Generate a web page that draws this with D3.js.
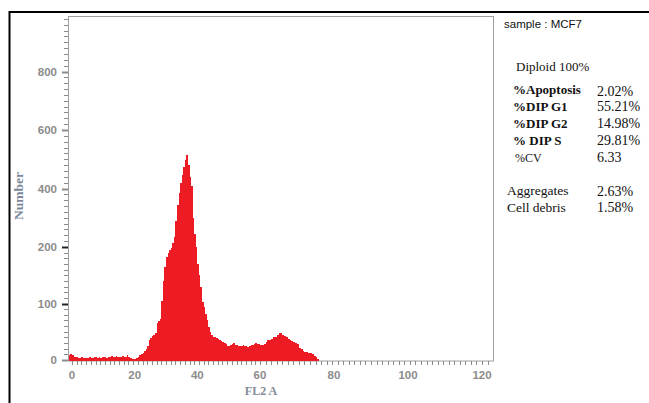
<!DOCTYPE html>
<html>
<head>
<meta charset="utf-8">
<script src="https://cdn.jsdelivr.net/npm/d3@7"></script>
<style>
  body { margin: 0; background: #fff; }
  svg { display: block; }
</style>
</head>
<body>
<svg id="chart" width="649" height="403"></svg>
<script>
// histogram: counts per half-channel bin, first bin starts at channel -1
const firstChannel = -1;
const binWidth = 0.5;
const counts = [
  9, 11,
  8, 6, 5, 5, 4, 4, 5, 4, 4, 3, 4, 5, 4, 4, 5, 6, 4, 5, 4, 5,
  6, 5, 4, 6, 5, 7, 5, 6, 7, 5, 6, 5, 7, 6, 5, 8, 6, 3, 1, 1,
  2, 3, 6, 9, 11, 13, 16, 20, 25, 36, 39, 42, 45, 48, 66, 69, 72, 105, 140, 165,
  182, 190, 194, 198, 212, 235, 290, 345, 385, 420, 446, 474, 497, 515, 482, 440, 410, 300, 245, 200,
  170, 150, 130, 102, 94, 82, 70, 58, 50, 44, 41, 40, 39, 37, 35, 34, 32, 30, 28, 25,
  24, 26, 29, 30, 27, 26, 24, 25, 24, 26, 24, 25, 23, 24, 26, 27, 29, 30, 29, 28,
  27, 26, 29, 32, 35, 36, 38, 40, 41, 44, 47, 48, 45, 42, 40, 38, 35, 33, 31, 30,
  28, 22, 19, 16, 15, 14, 13, 12, 11, 7, 5, 2
];

const xTickValues = [0, 20, 40, 60, 80, 100, 120];
const yTickValues = [0, 100, 200, 400, 600, 800];

const sampleLabel = "sample : MCF7";
const ploidyLabel = "Diploid 100%";
const statLabels = ["%Apoptosis", "%DIP G1", "%DIP G2", "% DIP S", "%CV"];
const statValues = ["2.02%", "55.21%", "14.98%", "29.81%", "6.33"];
const extraLabels = ["Aggregates", "Cell debris"];
const extraValues = ["2.63%", "1.58%"];

const svg = d3.select("#chart");
const plot = { left: 68, right: 493, top: 16, bottom: 360 };

// the instrument axes are not evenly spaced, so both scales are piecewise
const x = d3.scaleLinear().domain([0, 60, 120]).range([72, 260, 482]);
const y = d3.scaleLinear().domain([0, 200, 990]).range([plot.bottom, 247, plot.top]);

// outer black frame (top and left edges only)
svg.append("line").attr("x1", 9).attr("x2", 649).attr("y1", 12).attr("y2", 12)
  .attr("stroke", "#000").attr("stroke-width", 2);
svg.append("line").attr("x1", 9.5).attr("x2", 9.5).attr("y1", 11).attr("y2", 403)
  .attr("stroke", "#000").attr("stroke-width", 2);

// plot box
svg.append("rect")
  .attr("x", plot.left + 0.5).attr("y", plot.top + 0.5)
  .attr("width", plot.right - plot.left).attr("height", plot.bottom - plot.top + 0.5)
  .attr("fill", "none").attr("stroke", "#a0a0a0");

svg.append("clipPath").attr("id", "clip")
  .append("rect")
  .attr("x", plot.left + 1).attr("y", plot.top)
  .attr("width", plot.right - plot.left - 1).attr("height", plot.bottom - plot.top + 1);

const bins = counts.map((n, i) => ({ c: firstChannel + i * binWidth, n: n }));
bins.push({ c: firstChannel + counts.length * binWidth, n: 0 });

const area = d3.area()
  .curve(d3.curveStepAfter)
  .x(d => x(d.c))
  .y0(y(0) + 0.5)
  .y1(d => y(d.n));

svg.append("path")
  .datum(bins)
  .attr("clip-path", "url(#clip)")
  .attr("fill", "#ed1c24")
  .attr("shape-rendering", "crispEdges")
  .attr("d", area);

// y axis minor ticks: every 10 below 200, every 20 above
const yMinor = d3.range(0, 200, 10).concat(d3.range(200, 990, 20));
svg.append("g").selectAll("line")
  .data(yMinor)
  .join("line")
  .attr("x1", d => yTickValues.includes(d) ? 62 : 64)
  .attr("x2", plot.left)
  .attr("y1", d => Math.round(y(d)) + 0.5)
  .attr("y2", d => Math.round(y(d)) + 0.5)
  .attr("stroke", d => (d === 100 || d === 200) ? "#222" : "#8a8a8a")
  .attr("stroke-width", d => yTickValues.includes(d) ? 2 : 1);

svg.append("g").selectAll("text")
  .data(yTickValues)
  .join("text")
  .attr("x", 57)
  .attr("y", d => y(d))
  .attr("dy", "0.36em")
  .attr("text-anchor", "end")
  .attr("font-family", "Liberation Sans, Arial, sans-serif")
  .attr("font-weight", "bold")
  .attr("font-size", 11.5)
  .attr("fill", "#8c8c8c")
  .text(d => d);

// x axis ticks
const xMinor = d3.range(0, 123, 1.5);
svg.append("g").selectAll("line")
  .data(xMinor)
  .join("line")
  .attr("x1", d => Math.round(x(d)) + 0.5)
  .attr("x2", d => Math.round(x(d)) + 0.5)
  .attr("y1", plot.bottom + 1)
  .attr("y2", plot.bottom + 5)
  .attr("stroke", "#8a8a8a");

svg.append("g").selectAll("text")
  .data(xTickValues)
  .join("text")
  .attr("x", d => x(d))
  .attr("y", 379)
  .attr("text-anchor", "middle")
  .attr("font-family", "Liberation Sans, Arial, sans-serif")
  .attr("font-weight", "bold")
  .attr("font-size", 11.5)
  .attr("fill", "#8c8c8c")
  .text(d => d);

// axis titles
svg.append("text")
  .attr("transform", "translate(23,196) rotate(-90)")
  .attr("text-anchor", "middle")
  .attr("font-family", "Liberation Serif, serif")
  .attr("font-weight", "bold")
  .attr("font-size", 13.5)
  .attr("fill", "#7c889a")
  .text("Number");

svg.append("text")
  .attr("x", 261).attr("y", 395)
  .attr("text-anchor", "middle")
  .attr("font-family", "Liberation Serif, serif")
  .attr("font-weight", "bold")
  .attr("font-size", 12)
  .attr("fill", "#858c96")
  .text("FL2 A");

// right-hand report panel
const serif = "Liberation Serif, serif";

svg.append("text")
  .attr("x", 504).attr("y", 28)
  .attr("font-family", "Liberation Sans, Arial, sans-serif")
  .attr("font-size", 11.5)
  .attr("fill", "#111")
  .text(sampleLabel);

svg.append("text")
  .attr("x", 516).attr("y", 71)
  .attr("font-family", serif)
  .attr("font-size", 13)
  .attr("fill", "#111")
  .text(ploidyLabel);

const stats = svg.append("g");
statLabels.forEach((label, i) => {
  const isCV = i === statLabels.length - 1;
  const base = 94 + i * 17;
  stats.append("text")
    .attr("x", isCV ? 515 : 513).attr("y", base)
    .attr("font-family", serif)
    .attr("font-weight", isCV ? "normal" : "bold")
    .attr("font-size", isCV ? 12 : 13)
    .attr("fill", "#111")
    .text(label);
  stats.append("text")
    .attr("x", 597).attr("y", base + (i === 0 ? 2 : 0))
    .attr("font-family", serif)
    .attr("font-size", 14)
    .attr("fill", "#111")
    .text(statValues[i]);
});

extraLabels.forEach((label, i) => {
  const base = 195 + i * 17;
  stats.append("text")
    .attr("x", 507).attr("y", base)
    .attr("font-family", serif)
    .attr("font-size", 13.5)
    .attr("fill", "#111")
    .text(label);
  stats.append("text")
    .attr("x", 597).attr("y", base + (i === 0 ? 1 : 0))
    .attr("font-family", serif)
    .attr("font-size", 14)
    .attr("fill", "#111")
    .text(extraValues[i]);
});
</script>
</body>
</html>
